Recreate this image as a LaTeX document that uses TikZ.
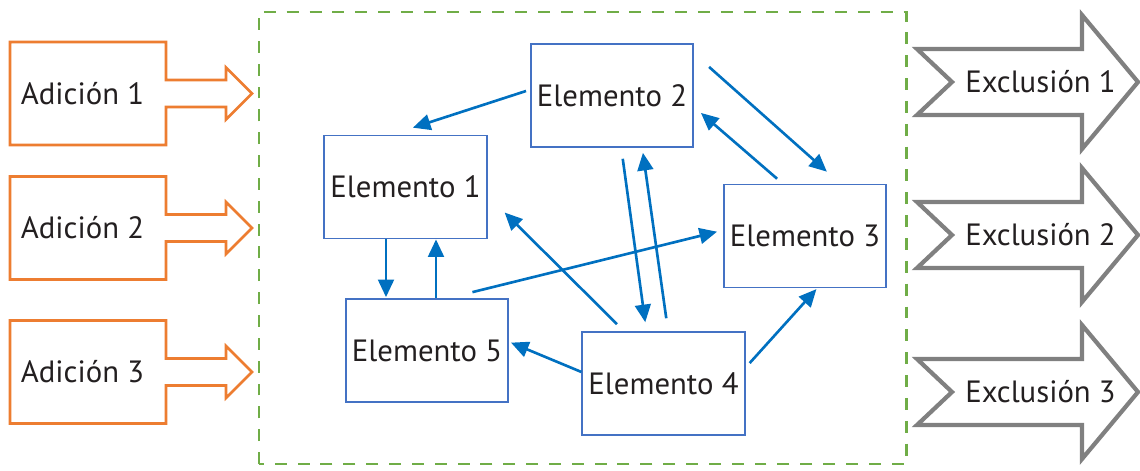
\documentclass[tikz,border=0pt]{standalone}
\usepackage{fontspec}
\setmainfont{PT Sans}
\usepackage{tikz}
\usetikzlibrary{calc,positioning,arrows.meta}
\definecolor{addorange}{RGB}{237,125,49}
\definecolor{exgrey}{RGB}{128,128,128}
\definecolor{framegreen}{RGB}{112,173,71}
\definecolor{boxblue}{RGB}{68,114,196}
\definecolor{linkblue}{RGB}{0,112,192}
\definecolor{textblack}{RGB}{35,31,32}
\tikzstyle{elem}    = [draw=boxblue, line width=1pt, minimum width=3.25cm, minimum height=2.06cm, inner sep=0pt, text=textblack, font=\fontsize{17.5}{20}\selectfont]
\tikzstyle{label}   = [text=textblack, font=\fontsize{17.5}{20}\selectfont]
\tikzstyle{addshape}= [draw=addorange, line width=1.5pt, fill=white]
\tikzstyle{exshape} = [draw=exgrey, line width=2.4pt, fill=white]
\tikzstyle{link}    = [draw=linkblue, line width=1.5pt, -{Triangle[length=10pt,width=9pt]}]

\begin{document}
\begin{tikzpicture}
        \useasboundingbox (0,0) rectangle (22.8,9.4);
        \draw[framegreen, line width=1.7pt, dash pattern=on 6.8pt off 6.2pt] (5.18,0.12) rectangle (18.12,9.16);

        % additions
        \draw[addshape] (5.04,7.53) -- ++(-0.52,0.52) -- ++(0,-0.25) -- ++(-1.20,0) -- ++(0,0.76) -- ++(-3.12,0) -- ++(0,-2.06) -- ++(3.12,0) -- ++(0,0.76) -- ++(1.20,0) -- ++(0,-0.25) -- cycle;
        \draw[addshape] (5.04,4.84) -- ++(-0.52,0.52) -- ++(0,-0.25) -- ++(-1.20,0) -- ++(0,0.76) -- ++(-3.12,0) -- ++(0,-2.06) -- ++(3.12,0) -- ++(0,0.76) -- ++(1.20,0) -- ++(0,-0.25) -- cycle;
        \draw[addshape] (5.04,1.96) -- ++(-0.52,0.52) -- ++(0,-0.25) -- ++(-1.20,0) -- ++(0,0.76) -- ++(-3.12,0) -- ++(0,-2.06) -- ++(3.12,0) -- ++(0,0.76) -- ++(1.20,0) -- ++(0,-0.25) -- cycle;
        \node[label] (add1) at (1.65,7.53) {Adición 1};
        \node[label] (add2) at (1.65,4.84) {Adición 2};
        \node[label] (add3) at (1.65,1.96) {Adición 3};

        % exclusions
        \draw[exshape] (22.76,7.76) -- ++(-1.12,1.34) -- ++(0,-0.68) -- ++(-3.30,0) -- ++(0.70,-0.66) -- ++(-0.70,-0.66) -- ++(3.30,0) -- ++(0,-0.68) -- cycle;
        \draw[exshape] (22.76,4.70) -- ++(-1.12,1.34) -- ++(0,-0.68) -- ++(-3.30,0) -- ++(0.70,-0.66) -- ++(-0.70,-0.66) -- ++(3.30,0) -- ++(0,-0.68) -- cycle;
        \draw[exshape] (22.76,1.56) -- ++(-1.12,1.34) -- ++(0,-0.68) -- ++(-3.30,0) -- ++(0.70,-0.66) -- ++(-0.70,-0.66) -- ++(3.30,0) -- ++(0,-0.68) -- cycle;
        \node[label] (ex1) at (20.81,7.76) {Exclusión 1};
        \node[label] (ex2) at (20.81,4.70) {Exclusión 2};
        \node[label] (ex3) at (20.81,1.56) {Exclusión 3};

        % elements
        \node[elem] (e1) at (8.11,5.66) {Elemento 1};
        \node[elem] (e2) at (12.24,7.49) {Elemento 2};
        \node[elem] (e3) at (16.10,4.68) {Elemento 3};
        \node[elem] (e4) at (13.27,1.73) {Elemento 4};
        \node[elem] (e5) at (8.54,2.39) {Elemento 5};

        \draw[link, shorten <=0.08cm, shorten >=0.45cm] (e2.176.8) -- (e1.105.9);
        \draw[link, shorten <=0.40cm, shorten >=0.36cm] (e2.27.3) -- (e3.56.4);
        \draw[link, shorten <=0.15cm, shorten >=0.18cm] (e3.113.1) -- (e2.-8.1);
        \draw[link, shorten <=0.22cm, shorten >=0.18cm] (e2.-80.6) -- (e4.108.5);
        \draw[link, shorten <=0.26cm, shorten >=0.10cm] (e4.85) -- (e2.-60.4);
        \draw[link, shorten <=0.20cm, shorten >=0.48cm] (e4.127.5) -- (e1.-6.3);
        \draw[link, shorten <=0.50cm, shorten >=0.12cm] (e5.68.8) -- (e3.176.8);
        \draw[link, shorten >=0.02cm] ([xshift=-0.39cm]e1.south) -- ([xshift=-0.39cm]e1.south |- e5.north);
        \draw[link] ([xshift=0.61cm]e1.south |- e5.north) -- ([xshift=0.61cm]e1.south);
        \draw[link, shorten >=0.04cm] (e4.172.7) -- (e5.6.7);
        \draw[link, shorten <=0.12cm, shorten >=0.02cm] (e4.11.8) -- (e3.-77);
\end{tikzpicture}
\end{document}
